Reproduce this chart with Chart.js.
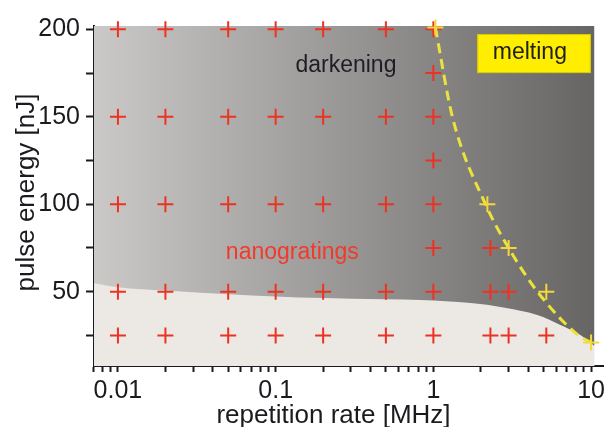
<!DOCTYPE html>
<html>
<head>
<meta charset="utf-8">
<script src="https://cdn.jsdelivr.net/npm/chart.js@4.4.0/dist/chart.umd.min.js"></script>
<style>
  html, body { margin: 0; padding: 0; background: #fff; }
  #wrap { width: 607px; height: 427px; }
</style>
</head>
<body>
<div id="wrap"><canvas id="c" width="607" height="427"></canvas></div>
<script>
// ---------------------------------------------------------------------------
// Data
// ---------------------------------------------------------------------------

// red crosses: tested (rate, energy) combinations
const redRate = [
  0.01, 0.02, 0.05, 0.1, 0.2, 0.5, 1,            // 200 nJ
  1,                                             // 175 nJ
  0.01, 0.02, 0.05, 0.1, 0.2, 0.5, 1,            // 150 nJ
  1,                                             // 125 nJ
  0.01, 0.02, 0.05, 0.1, 0.2, 0.5, 1,            // 100 nJ
  1, 2.3,                                        // 75 nJ
  0.01, 0.02, 0.05, 0.1, 0.2, 0.5, 1, 2.3, 3,    // 50 nJ
  0.01, 0.02, 0.05, 0.1, 0.2, 0.5, 1, 2.3, 3, 5.2 // 25 nJ
];
const redEnergy = [
  200, 200, 200, 200, 200, 200, 200,
  175,
  150, 150, 150, 150, 150, 150, 150,
  125,
  100, 100, 100, 100, 100, 100, 100,
  75, 75,
  50, 50, 50, 50, 50, 50, 50, 50, 50,
  25, 25, 25, 25, 25, 25, 25, 25, 25, 25
];

// yellow crosses: melting onset
const meltRate   = [1.03, 2.2, 3.0, 5.2, 10];
const meltEnergy = [201, 100, 75, 50, 21];

// dashed melting threshold
const threshRate   = [1.03, 1.32, 2.14, 3.0, 4.57, 8.3, 10];
const threshEnergy = [201, 150, 100, 75, 50, 25, 21];

// lower edge of the grey (darkening / nanogratings) region
const boundaryRate   = [0.00705, 0.01, 0.02, 0.05, 0.1, 0.14, 0.3, 0.83, 1.72, 2.78, 4.56, 6.39, 8.55, 9.9, 10.5];
const boundaryEnergy = [54.8, 52.5, 50.6, 48.5, 47.2, 46.6, 46, 45.3, 43.5, 41, 36.7, 31, 25.2, 21, 19];

// axes
const rateMajor   = [0.01, 0.1, 1, 10];
const rateLabels  = ["0.01", "0.1", "1", "10"];
const energyTicks = [25, 50, 75, 100, 125, 150, 175, 200];
const energyMajor = [50, 100, 150, 200];

// ---------------------------------------------------------------------------
// Styling
// ---------------------------------------------------------------------------
const FONT = "'Liberation Sans', Arial, sans-serif";
const INK = "#1b1b1f";
const RED = "#ec3323";
const YELLOW = "#f2d83a";
const YELLOW_LINE = "#ece23c";

const pts = (xs, ys) => xs.map((v, i) => ({ x: v, y: ys[i] }));

// minor + major ticks for the log axis
const rateTicks = [];
for (let e = -3; e <= 1; e++) {
  for (let m = 1; m <= 9; m++) {
    const v = Number((m * Math.pow(10, e)).toPrecision(3));
    if (v >= 0.007 && v <= 10) rateTicks.push(v);
  }
}

// light background below the boundary, text labels, x tick labels, axis titles
const decorPlugin = {
  id: "decor",
  beforeDatasetsDraw(chart) {
    const { ctx, chartArea: a, scales: { x } } = chart;
    const xr = x.getPixelForValue(boundaryRate[boundaryRate.length - 1]);
    ctx.save();
    ctx.fillStyle = "#ece9e5";
    ctx.fillRect(a.left, a.top, xr - a.left, a.bottom - a.top);
    ctx.restore();
  },
  afterDatasetsDraw(chart) {
    const { ctx, scales: { x, y } } = chart;
    ctx.save();
    ctx.textBaseline = "alphabetic";
    ctx.textAlign = "center";

    // melting box
    const bx1 = x.getPixelForValue(1.9), bx2 = x.getPixelForValue(9.95);
    const by1 = y.getPixelForValue(197.3), by2 = y.getPixelForValue(175);
    ctx.fillStyle = "#ffee00";
    ctx.fillRect(bx1, by1, bx2 - bx1, by2 - by1);
    ctx.strokeStyle = "#d9c800";
    ctx.lineWidth = 1;
    ctx.strokeRect(bx1 + 0.5, by1 + 0.5, bx2 - bx1 - 1, by2 - by1 - 1);

    ctx.font = "23px " + FONT;
    ctx.fillStyle = "#202020";
    ctx.fillText("melting", x.getPixelForValue(4.09), y.getPixelForValue(182.8));

    ctx.fillStyle = "#1e1e26";
    ctx.fillText("darkening", x.getPixelForValue(0.279), y.getPixelForValue(175.6));

    ctx.fillStyle = "#f03a2c";
    ctx.fillText("nanogratings", x.getPixelForValue(0.1276), y.getPixelForValue(68.5));
    ctx.restore();
  },
  afterDraw(chart) {
    const { ctx, chartArea: a, scales: { x } } = chart;
    ctx.save();
    ctx.fillStyle = INK;
    ctx.textAlign = "center";
    ctx.textBaseline = "alphabetic";

    // x tick labels (drawn here so they do not pad the chart area)
    ctx.font = "25px " + FONT;
    rateMajor.forEach((v, i) => {
      ctx.fillText(rateLabels[i], x.getPixelForValue(v), a.bottom + 32);
    });

    ctx.font = "26px " + FONT;
    ctx.fillText("repetition rate [MHz]", 333.5, a.bottom + 57);

    ctx.translate(33.5, a.top + 166.5);
    ctx.rotate(-Math.PI / 2);
    ctx.fillText("pulse energy [nJ]", 0, 0);
    ctx.restore();
  }
};

new Chart(document.getElementById("c"), {
  type: "line",
  data: {
    datasets: [
      {
        // melting onset crosses
        data: pts(meltRate, meltEnergy),
        showLine: false,
        pointStyle: "cross",
        pointRadius: 8,
        pointBorderWidth: 2,
        pointBorderColor: YELLOW,
        borderColor: YELLOW,
        clip: false,
        order: 0,
      },
      {
        // melting threshold
        data: pts(threshRate, threshEnergy),
        showLine: true,
        borderColor: YELLOW_LINE,
        borderWidth: 3,
        borderDash: [10, 6],
        pointRadius: 0,
        cubicInterpolationMode: "monotone",
        fill: false,
        clip: false,
        order: 1,
      },
      {
        // tested parameters
        data: pts(redRate, redEnergy),
        showLine: false,
        pointStyle: "cross",
        pointRadius: 8,
        pointBorderWidth: 2,
        pointBorderColor: RED,
        borderColor: RED,
        clip: false,
        order: 2,
      },
      {
        // grey region above the boundary
        data: pts(boundaryRate, boundaryEnergy),
        showLine: true,
        borderWidth: 0,
        borderColor: "rgba(0,0,0,0)",
        pointRadius: 0,
        cubicInterpolationMode: "monotone",
        fill: "end",
        backgroundColor: (c) => {
          const ch = c.chart;
          if (!ch.chartArea) return "rgba(0,0,0,0)";
          const sx = ch.scales.x;
          const g = ch.ctx.createLinearGradient(
            sx.getPixelForValue(boundaryRate[0]), 0,
            sx.getPixelForValue(boundaryRate[boundaryRate.length - 1]), 0);
          g.addColorStop(0, "#cbc9c7");
          g.addColorStop(1, "#676563");
          return g;
        },
        order: 3,
      },
    ],
  },
  options: {
    responsive: false,
    animation: false,
    events: [],
    // no auto padding: the 8px crosses would otherwise shrink the plot area
    layout: { autoPadding: false, padding: { top: 26, right: 4, left: 0, bottom: 0 } },
    plugins: {
      legend: { display: false },
      tooltip: { enabled: false },
    },
    scales: {
      x: {
        type: "logarithmic",
        position: "bottom",
        min: 0.00705,
        max: 11.9,
        bounds: "data",
        z: 1,
        border: { display: true, color: INK, width: 2 },
        grid: { display: true, drawOnChartArea: false, drawTicks: true, tickLength: 6, tickWidth: 2, tickColor: INK },
        ticks: {
          autoSkip: false,
          maxRotation: 0,
          minRotation: 0,
          padding: 0,
          callback: () => "",
        },
        afterBuildTicks: (s) => { s.ticks = rateTicks.map((v) => ({ value: v })); },
        afterFit: (s) => { s.height = 61; s.paddingLeft = 0; s.paddingRight = 0; },
      },
      y: {
        type: "linear",
        position: "left",
        min: 7.5,
        max: 201.9,
        bounds: "data",
        z: 1,
        border: { display: true, color: INK, width: 2 },
        grid: { display: true, drawOnChartArea: false, drawTicks: true, tickLength: 8, tickWidth: 2, tickColor: INK },
        ticks: {
          autoSkip: false,
          padding: 6,
          color: INK,
          font: { family: FONT, size: 25 },
          callback: (v) => (energyMajor.includes(v) ? String(v) : ""),
        },
        afterBuildTicks: (s) => { s.ticks = energyTicks.map((v) => ({ value: v })); },
        afterFit: (s) => { s.width = 94; s.paddingTop = 0; s.paddingBottom = 0; },
      },
    },
  },
  plugins: [decorPlugin],
});
</script>
</body>
</html>
